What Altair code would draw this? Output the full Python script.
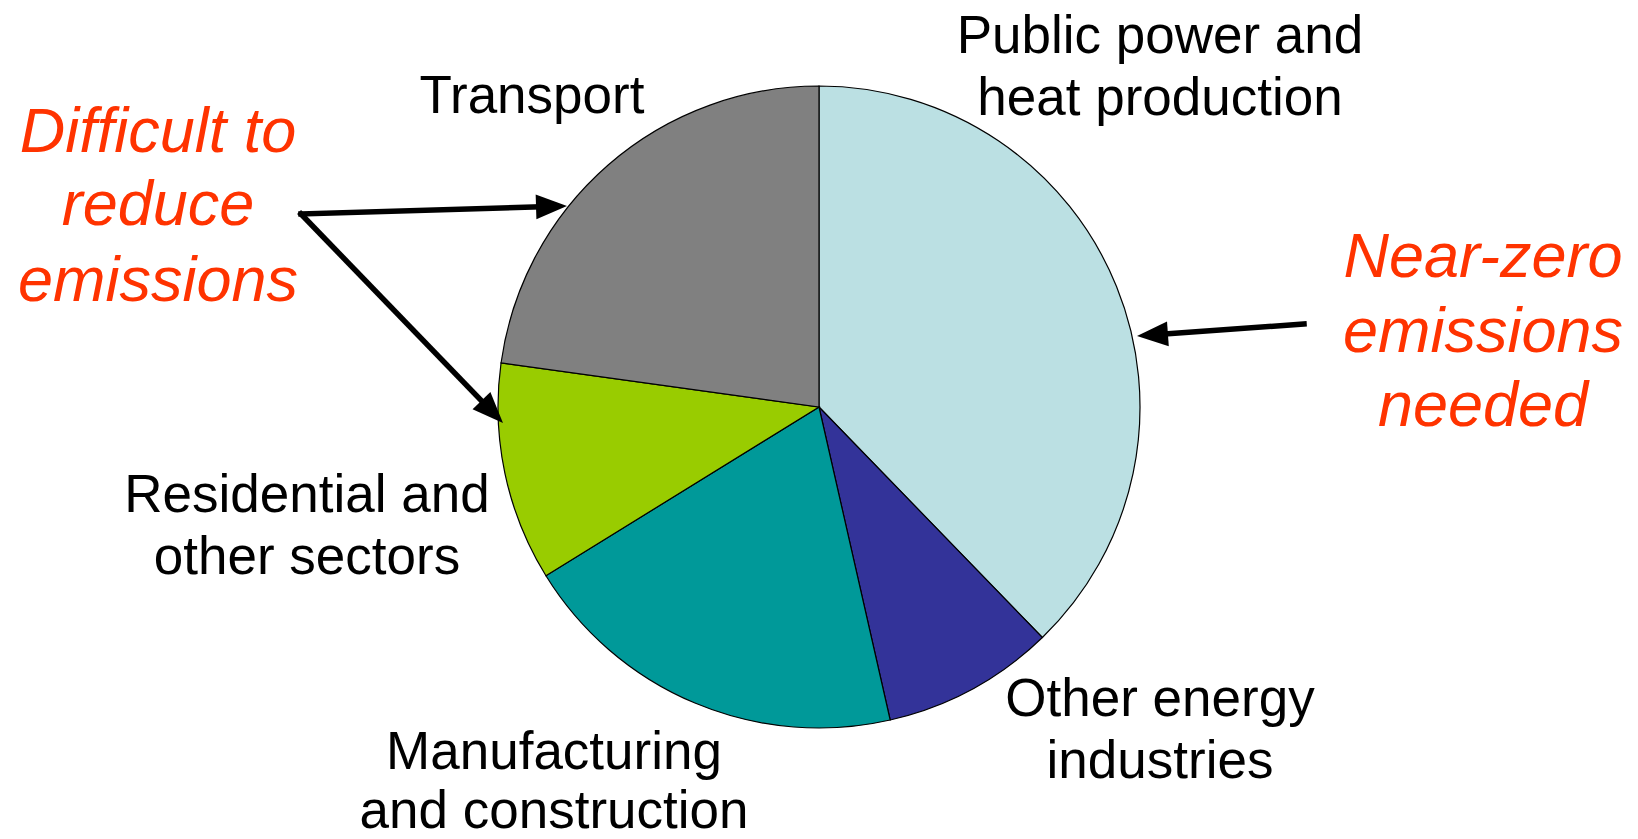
import math
import altair as alt
import pandas as pd

# Pie data (share of emissions, %), clockwise from 12 o'clock
sectors = ["Public power and heat production", "Other energy industries",
           "Manufacturing and construction", "Residential and other sectors", "Transport"]
shares = [37.75, 8.69, 19.75, 11.0, 22.81]
colors = ["#BBE0E3", "#333399", "#009999", "#99CC00", "#808080"]

# Sector labels (one row per line)
label_text = ["Public power and", "heat production", "Transport",
              "Residential and", "other sectors", "Manufacturing",
              "and construction", "Other energy", "industries"]
label_x = [1160, 1160, 532, 307, 307, 554, 554, 1160, 1160]
label_y = [53, 115, 113, 512, 574, 769, 828, 716, 778]

# Red annotations
note_text = ["Difficult to", "reduce", "emissions", "Near-zero", "emissions", "needed"]
note_x = [158, 158, 158, 1483, 1483, 1483]
note_y = [152, 225, 301, 277, 352, 426]

# Arrows: start -> tip
arrow_x1 = [301, 301, 1304]
arrow_y1 = [214, 214, 324]
arrow_x2 = [567, 503, 1137]
arrow_y2 = [206, 423, 336]

W, H = 1622, 823
OFF = 8
xs = alt.Scale(domain=[OFF, OFF + W], nice=False, zero=False)
ys = alt.Scale(domain=[OFF, OFF + H], nice=False, zero=False, reverse=True)

pie_df = pd.DataFrame({"sector": sectors, "share": shares, "order": list(range(len(sectors)))})
pie = alt.Chart(pie_df).mark_arc(radius=321, stroke="black", strokeWidth=1.2).encode(
    theta=alt.Theta("share:Q", stack=True),
    order=alt.Order("order:Q"),
    color=alt.Color("sector:N", scale=alt.Scale(domain=sectors, range=colors), legend=None),
    x=alt.value(819 - OFF),
    y=alt.value(407 - OFF),
)

rows = []
for x1, y1, x2, y2 in zip(arrow_x1, arrow_y1, arrow_x2, arrow_y2):
    dx, dy = x2 - x1, y2 - y1
    L = math.hypot(dx, dy)
    ux, uy = dx / L, dy / L
    ang = math.degrees(math.atan2(dy, dx)) % 360
    rows.append({"x1": x1, "y1": y1, "xe": x2 - ux * 20, "ye": y2 - uy * 20,
                 "xt": x2, "yt": y2, "ang": ang})
arr_df = pd.DataFrame(rows)

rules = alt.Chart(arr_df).mark_rule(color="black", strokeWidth=5.5, strokeCap="square").encode(
    x=alt.X("x1:Q", scale=xs, axis=None),
    y=alt.Y("y1:Q", scale=ys, axis=None),
    x2="xe:Q", y2="ye:Q",
)
heads = alt.Chart(arr_df).mark_point(
    shape="M0,0L-2,-0.8L-2,0.8Z", filled=True, color="black", opacity=1, size=960, strokeWidth=0
).encode(
    x=alt.X("xt:Q", scale=xs, axis=None),
    y=alt.Y("yt:Q", scale=ys, axis=None),
    angle=alt.Angle("ang:Q", scale=None),
)

lab_df = pd.DataFrame({"t": label_text, "x": label_x, "y": label_y})
labels = alt.Chart(lab_df).mark_text(
    font="Liberation Sans", fontSize=53, color="black", align="center", baseline="alphabetic"
).encode(
    x=alt.X("x:Q", scale=xs, axis=None),
    y=alt.Y("y:Q", scale=ys, axis=None),
    text="t:N",
)

note_df = pd.DataFrame({"t": note_text, "x": note_x, "y": note_y})
notes = alt.Chart(note_df).mark_text(
    font="Liberation Sans", fontSize=63, fontStyle="italic", color="#FF3300",
    align="center", baseline="alphabetic"
).encode(
    x=alt.X("x:Q", scale=xs, axis=None),
    y=alt.Y("y:Q", scale=ys, axis=None),
    text="t:N",
)

chart = alt.layer(pie, rules, heads, labels, notes).properties(
    width=W, height=H, padding=0, autosize="none"
).configure_view(stroke=None)

chart.save("out.html", embed_options={"renderer": "svg", "actions": False})
